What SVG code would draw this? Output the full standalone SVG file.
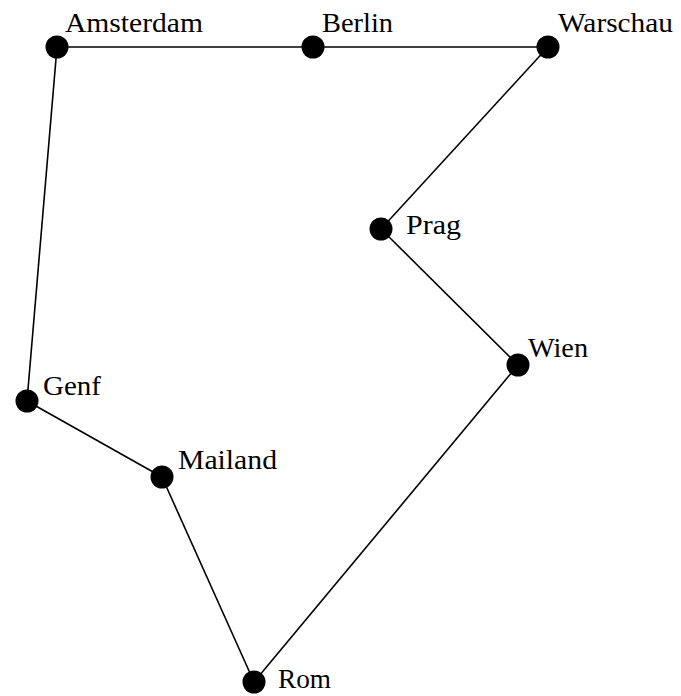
<svg xmlns="http://www.w3.org/2000/svg" width="681" height="696" viewBox="0 0 681 696">
<style>
.edge{stroke:#000;stroke-width:1.6;fill:none}
.dot{fill:#000}
.lbl{font-family:"Liberation Serif",serif;font-size:27px;fill:#000}
</style>
<rect width="681" height="696" fill="#fff"/>
<g id="connectors">
<line class="edge" x1="57" y1="47" x2="313" y2="47"/>
<line class="edge" x1="313" y1="47" x2="548" y2="47"/>
<line class="edge" x1="548" y1="47" x2="381" y2="229"/>
<line class="edge" x1="381" y1="229" x2="518" y2="365"/>
<line class="edge" x1="518" y1="365" x2="254" y2="682"/>
<line class="edge" x1="254" y1="682" x2="162" y2="477"/>
<line class="edge" x1="162" y1="477" x2="27" y2="401"/>
<line class="edge" x1="27" y1="401" x2="57" y2="47"/>
</g>
<g id="amsterdam"><circle class="dot" cx="57" cy="47" r="11.5"/><text class="lbl" x="65" y="32" textLength="138" lengthAdjust="spacingAndGlyphs">Amsterdam</text></g>
<g id="berlin"><circle class="dot" cx="313" cy="47" r="11.5"/><text class="lbl" x="322" y="32" textLength="71" lengthAdjust="spacingAndGlyphs">Berlin</text></g>
<g id="warschau"><circle class="dot" cx="548" cy="47" r="11.5"/><text class="lbl" x="558" y="32" textLength="115" lengthAdjust="spacingAndGlyphs">Warschau</text></g>
<g id="prag"><circle class="dot" cx="381" cy="229" r="11.5"/><text class="lbl" x="406" y="234" textLength="55" lengthAdjust="spacingAndGlyphs">Prag</text></g>
<g id="wien"><circle class="dot" cx="518" cy="365" r="11.5"/><text class="lbl" x="528" y="357" textLength="60" lengthAdjust="spacingAndGlyphs">Wien</text></g>
<g id="genf"><circle class="dot" cx="27" cy="401" r="11.5"/><text class="lbl" x="43" y="395" textLength="58" lengthAdjust="spacingAndGlyphs">Genf</text></g>
<g id="mailand"><circle class="dot" cx="162" cy="477" r="11.5"/><text class="lbl" x="178" y="469" textLength="99" lengthAdjust="spacingAndGlyphs">Mailand</text></g>
<g id="rom"><circle class="dot" cx="254" cy="682" r="11.5"/><text class="lbl" x="278" y="688" textLength="53" lengthAdjust="spacingAndGlyphs">Rom</text></g>
</svg>
